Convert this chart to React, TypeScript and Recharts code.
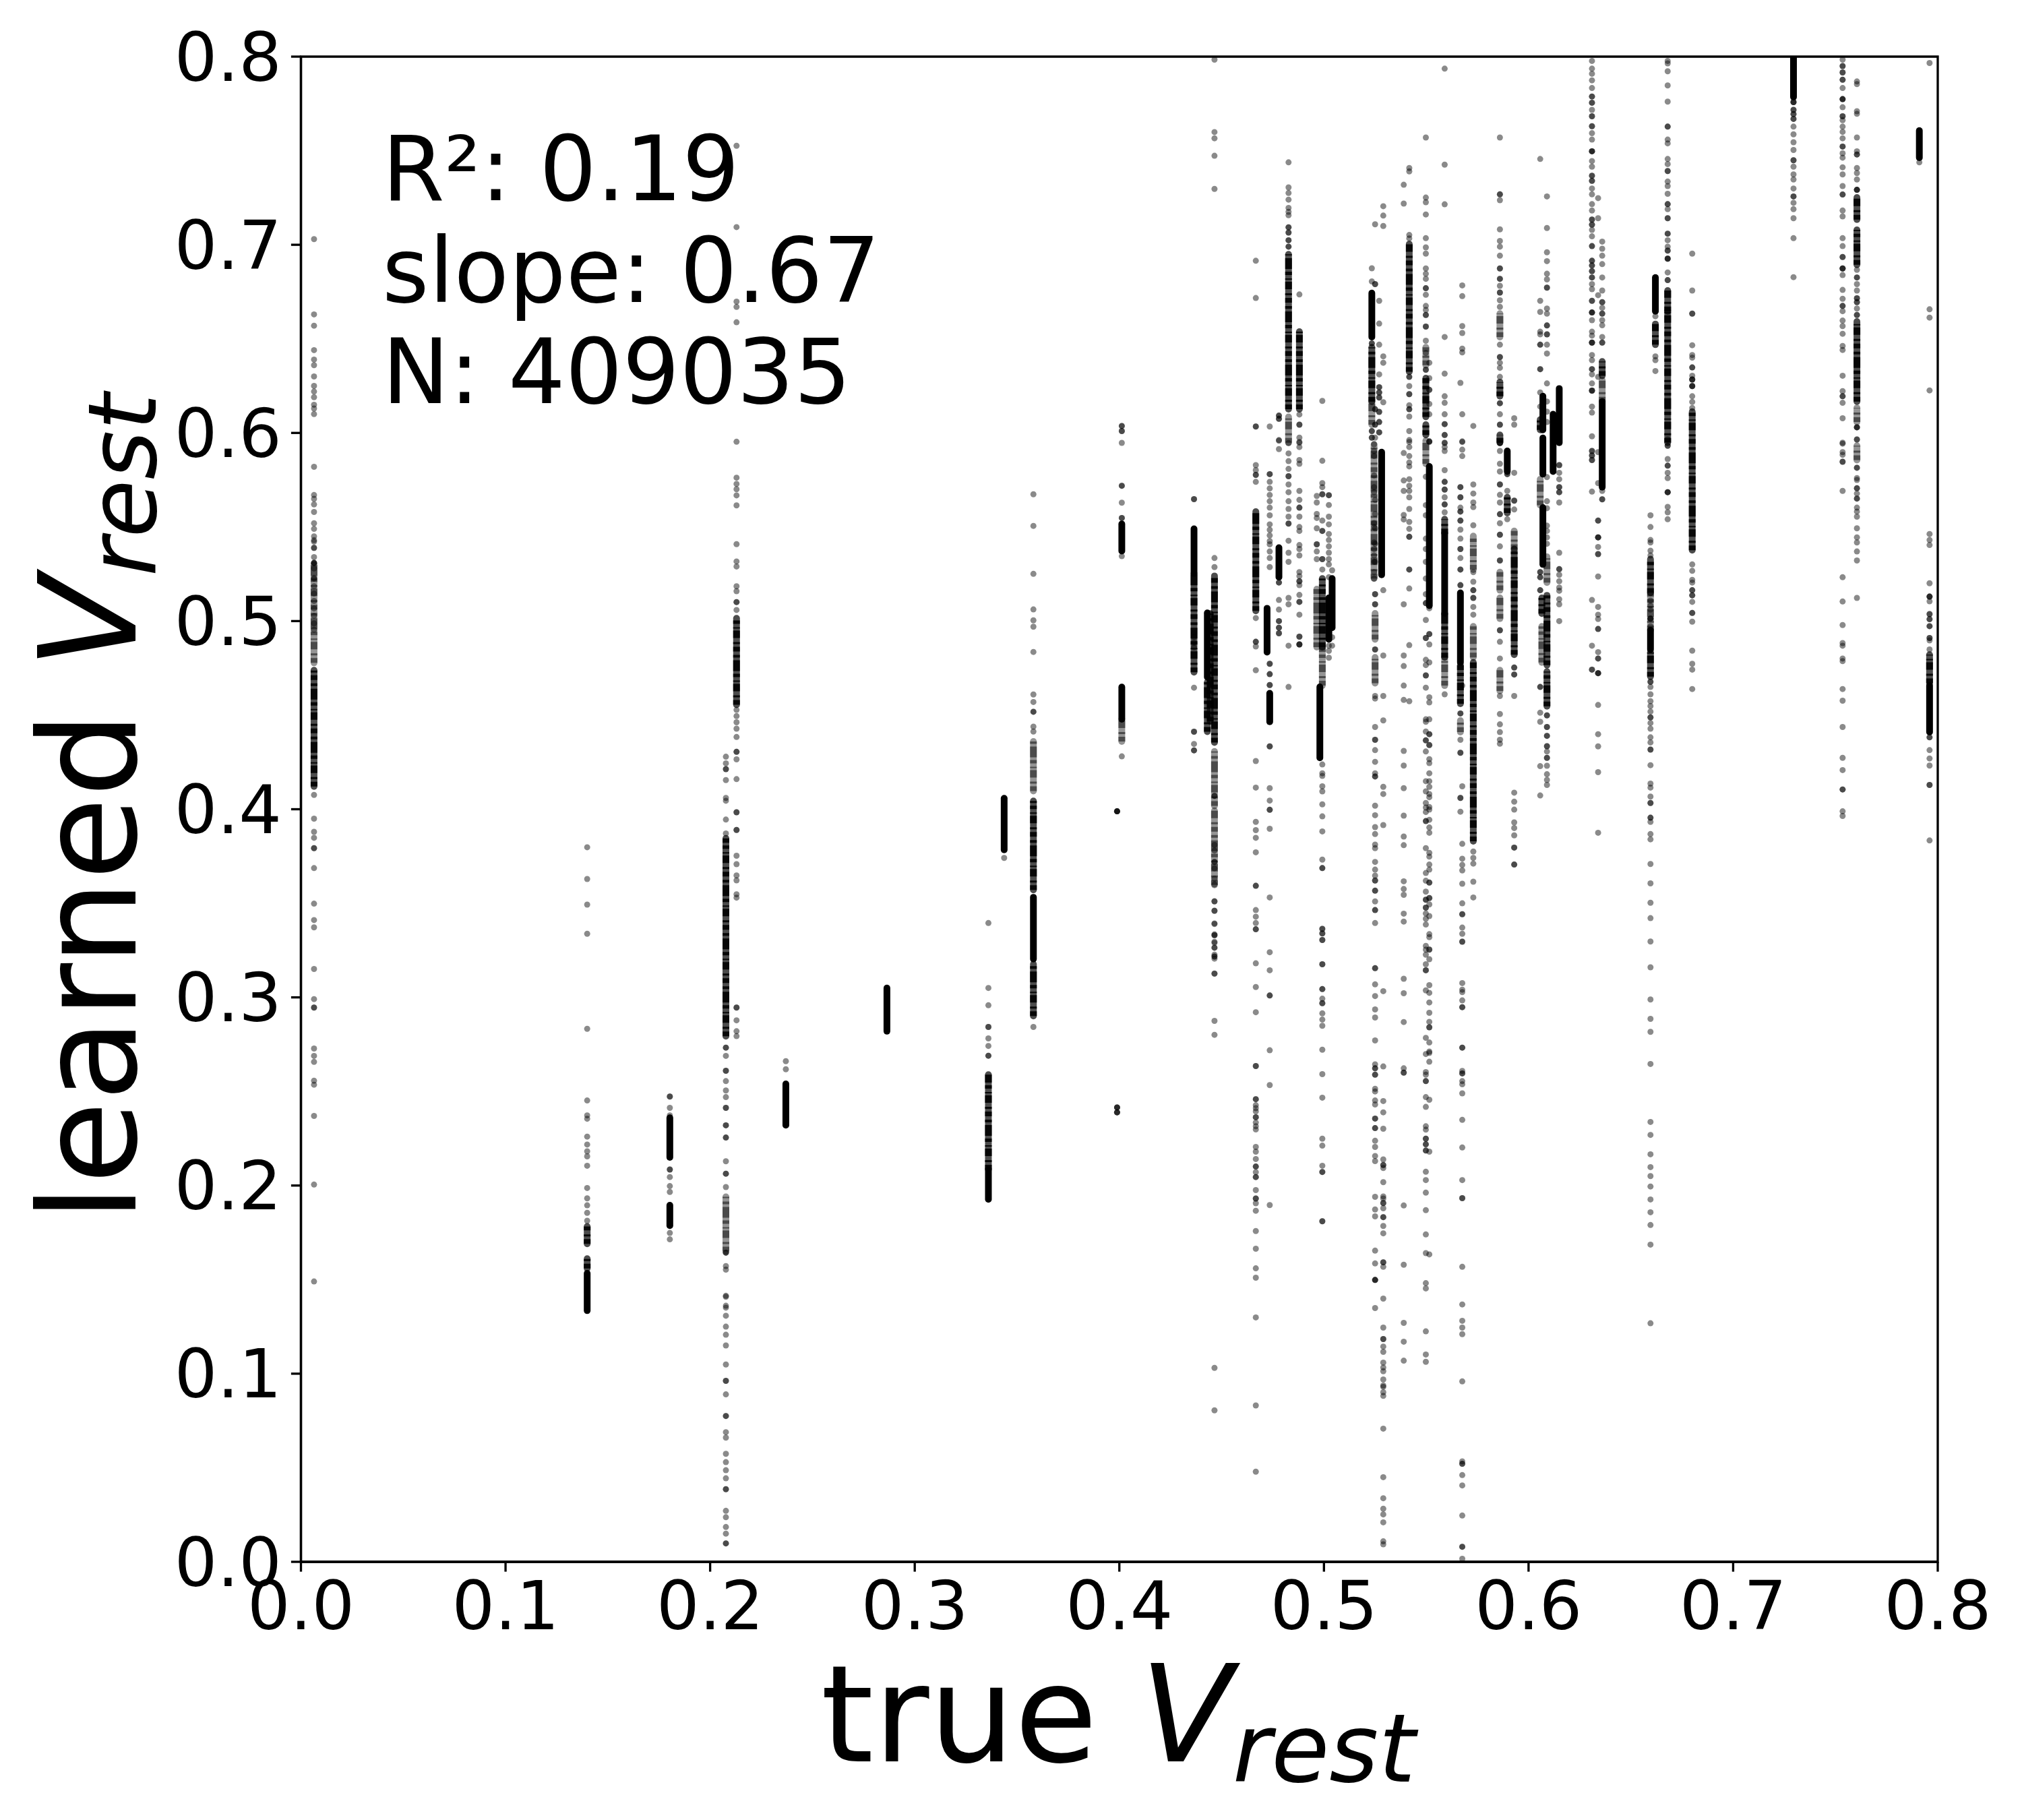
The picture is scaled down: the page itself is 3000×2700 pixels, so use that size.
import { ScatterChart, Scatter, XAxis, YAxis, ReferenceArea } from 'recharts';

const xTicks = [0, 0.1, 0.2, 0.3, 0.4, 0.5, 0.6, 0.7, 0.8];
const yTicks = [0, 0.1, 0.2, 0.3, 0.4, 0.5, 0.6, 0.7, 0.8];
const statLines = ['R²: 0.19', 'slope: 0.67', 'N: 409035'];

// single dots, one list per vertical stripe
const col0064 = [.703,.663,.657,.644,.639,.636,.630,.625,.622,.619,.615,.613,.610,.582,.567,.565,.562,.558,.552,.549,.545,.543,.539,.534,.531,.528,.523,.5422,.5388,.5309,.5309,.5225,.5185,.5146,.5107,.5067,.5028,.4988,.4954,.4076,.395,.388,.3848,.3793,.3793,.3687,.3498,.3411,.3372,.3151,.2991,.2946,.2946,.2728,.2689,.2657,.2557,.2536,.237,.2005,.149];
const col1399 = [.3798,.3629,.3493,.3338,.2833,.2452,.2373,.2355,.226,.2218,.2182,.2155,.2105,.1987,.1932,.1895,.1855,.1813];
const col1803 = [.2473,.2473,.2413,.2373,.2085,.2085,.2045,.1997,.1966,.1748,.1714];
const col2077 = [.4279,.4244,.4213,.4213,.4155,.406,.4045,.3945,.3871,.2733,.2733,.2689,.261,.261,.2555,.2505,.247,.2413,.2413,.232,.232,.2255,.2255,.2129,.2063,.2063,.1992,.1643,.1643,.1572,.1553,.1414,.1409,.1361,.1351,.1308,.125,.1207,.115,.1049,.0962,.0962,.089,.0775,.0775,.0689,.066,.0574,.053,.0487,.0444,.0386,.0386,.0271,.0237,.0185,.015,.0098,.0098];
const col2129 = [.7526,.7094,.6698,.667,.6588,.5953,.5762,.5729,.5701,.5668,.5615,.5409,.5317,.529,.5185,.5159,.5101,.5101,.5059,.4528,.4495,.4462,.4428,.4384,.4305,.4305,.4265,.416,.3984,.3984,.389,.389,.3753,.3708,.3648,.3622,.3548,.353,.2946,.2946,.2878,.282,.2794];
const col2370 = [.2661,.2618];
const col3360 = [.3395,.305,.2958,.2843,.2843,.2782,.2742,.269,.269];
const col3437 = [.3741];
const col3580 = [.5674,.5506,.5251,.5062,.5004,.497,.4836,.461,.457,.4518,.4518,.4439,.4413,.2843];
const col3989 = [.3989,.3989,.3989,.3989,.2415,.2415,.2415,.2389,.2389,.2389];
const col4012 = [.6037,.6037,.601,.601,.5947,.5719,.5719,.5629,.5548,.5548,.5345,.4281];
const col4365 = [.5648,.5648,.4646,.4412,.4412,.4347,.4313,.4313,.4938,.4915,.486,.4885];
const col4465 = [.7984,.7599,.7566,.7473,.7297,.5335,.5287,.3511,.3461,.3393,.3335,.3295,.3264,.3217,.3217,.3127,.2875,.2801,.1031,.0805,.4071,.4071,.381,.378,.372,.372,.3686,.3631,.36,.351,.346,.339,.333,.333,.329,.3264,.3227,.3206,.3126];
const col4667 = [.6915,.6717,.6034,.6034,.5829,.5802,.5777,.5777,.574,.5016,.489,.489,.4865,.4739,.4256,.4115,.3933,.3889,.3848,.3771,.3593,.3593,.3464,.3429,.3395,.3362,.3362,.3181,.3055,.2921,.2635,.2635,.2459,.2459,.2427,.2411,.2394,.2363,.2363,.2335,.2315,.2298,.2205,.218,.2141,.2101,.2101,.2071,.2045,.2045,.1976,.1931,.1931,.1906,.1866,.1758,.1664,.156,.151,.1299,.0831,.0479];
const col4735 = [.6034,.5781,.5781,.574,.5705,.567,.5637,.5603,.5562,.5514,.5485,.5455,.5425,.5408,.537,.5335,.5287,.4773,.4773,.4718,.4718,.466,.466,.4334,.4334,.4112,.4046,.3997,.3997,.3896,.3531,.324,.3144,.301,.301,.2719,.2534,.1896];
const col4780 = [.6092,.6092,.6075,.6075,.5962,.5959,.5914,.5205,.5205,.5112,.5061,.5,.5,.4965,.4965,.4935,.4935];
const col4827 = [.7438,.7305,.7275,.724,.7196,.7175,.7157,.7093,.7093,.7065,.7065,.7024,.7024,.699,.699,.5946,.5891,.585,.5809,.577,.577,.5726,.5685,.5637,.5596,.5555,.5518,.5518,.5427,.5363,.5315,.5123,.5089,.4869,.465];
const col4880 = [.6736,.6098,.6044,.6044,.5975,.5948,.5952,.5925,.5856,.5836,.5692,.5644,.5603,.5603,.5555,.55,.5479,.5404,.5383,.5349,.526,.5239,.5212,.5212,.5191,.5139,.5102,.5102,.5034,.4917,.4917,.4876,.4876,.4876];
const col4965 = [.5665,.563,.5569,.5548,.5493,.5408,.5408,.537,.5329];
const col4992 = [.617,.5852,.5733,.5712,.5674,.5674,.5534,.5479,.5479,.5329,.5329,.5274,.4238,.4191,.4177,.4122,.4095,.4026,.3962,.3882,.3732,.3687,.3687,.3364,.3364,.334,.334,.3305,.3305,.3176,.3176,.3044,.3044,.2993,.2969,.2969,.2915,.2882,.2849,.2722,.2592,.2467,.2249,.2212,.2105,.2072,.2072,.181,.181];
const col5024 = [.5669,.5669,.5617,.5555,.5514,.5463,.5431,.5397,.5363,.5329,.5301,.5233,.4869,.4842,.4805];
const col5040 = [.527,.4914,.4869];
const col5234 = [.6875,.6805,.6476,.6476,.601,.601,.5975,.5975];
const col5245 = [.5939,.5904,.5877,.5774,.5712,.5685,.5521,.55,.5418,.5383,.5349,.5315,.526,.5226];
const col5250 = [.7109,.6791,.6791,.6126,.6126,.6044,.6044,.5975,.5644,.5569,.5493,.5411,.5315,.5143,.5143,.5089,.5089,.4849,.4849,.4602,.4588,.4437,.4369,.4369,.4314,.4252,.4191,.4174,.4174,.4019,.3968,.3905,.3868,.3812,.3793,.372,.3679,.3647,.3621,.3621,.3567,.3567,.351,.3464,.3464,.3395,.3155,.3155,.3069,.3007,.2936,.2893,.2771,.2644,.2623,.2623,.2589,.2589,.2514,.25,.2452,.2431,.2356,.2356,.2305,.2305,.2238,.2205,.2157,.213,.194,.1873,.1836,.1654,.1586,.1498,.1498,.1498,.1349];
const col5270 = [.6702,.6581,.6469,.6311,.6243,.6243,.6215,.6215,.6188,.6188,.6112,.6112,.6058,.6058,.6003,.6003];
const col5290 = [.7205,.7155,.71,.6407,.6373,.6163,.5164,.4817,.4602,.4472,.4119,.4081,.3916,.3033,.2633,.2449,.2389,.2302,.2139,.2109,.2109,.2093,.2018,.1942,.1931,.1907,.1907,.1879,.1832,.1832,.1785,.1746,.1592,.1592,.1568,.1399,.1245,.1184,.1184,.1144,.1116,.1059,.1033,.1013,.0969,.0937,.093,.0901,.0882,.0708,.045,.0338,.0282,.0252,.021,.0109,.0093];
const col5390 = [.7319,.7219,.5893,.5747,.5692,.5564,.554,.5089,.4817,.4761,.4657,.4581,.431,.4232,.4112,.3966,.3855,.3809,.3617,.3576,.3545,.3445,.3403,.3099,.3022,.2869,.2623,.26,.26,.1894,.1579,.127,.117,.1069];
const col5417 = [.7408,.739,.7052,.7034,.6298,.6298,.6249,.6206,.6206,.6147,.6126,.6126,.6087,.601,.5962,.5952,.5925,.5877,.5843,.5822,.5754,.5719,.5692,.5658,.5596,.5527,.549,.5448,.5448,.5274,.5274,.5173,.4872,.4574];
const col5498 = [.757,.7251,.7226,.7161,.7035,.6986,.6953,.6874,.6846,.6819,.6769,.6769,.6734,.6675,.6654,.6627,.6627,.6565,.6565,.649,.6425,.6336,.6336,.5767,.5616,.5562,.5438,.5383,.5315,.5226,.5143,.5095,.5095,.5006,.491,.491,.4794,.4766,.4711,.4711,.4646,.4478,.4465,.4413,.4366,.4366,.4307,.4149,.4095,.4033,.4009,.3985,.3937,.3937,.3793,.3661,.362,.3562,.3519,.3519,.3477,.3477,.3446,.3418,.3387,.3274,.3254,.3227,.3176,.3144,.3144,.3037,.2785,.2699,.2603,.2589,.2555,.2555,.247,.2418,.2315,.2297,.2249,.2249,.2219,.2219,.2186,.2186,.2073,.2029,.1962,.1869,.174,.1641,.1481,.1453,.1225,.1102,.1063];
const col5515 = [.6373,.6291,.6229,.6229,.6154,.6099,.5955,.5955,.5952,.5068,.4931,.4931,.4876,.478,.4595,.4568,.4478,.4399,.4399,.4341,.4341,.4266,.4245,.4191,.4149,.4119,.4081,.4064,.4012,.3998,.3944,.3903,.3875,.3768,.3748,.3706,.3679,.361,.361,.3528,.3528,.3494,.3432,.3336,.332,.3254,.3254,.3203,.3065,.3024,.2973,.2918,.287,.2841,.2841,.276,.2712,.2705,.2658,.2456,.218,.1634];
const col5590 = [.7936,.7426,.7215,.651,.6315,.6195,.616,.6099,.6047,.6047,.5989,.5989,.5948,.5946,.5925,.5904,.5802,.574,.574,.5699,.5699,.5658,.562,.562,.5578,.4611];
const col5667 = [.6266,.5712,.5712,.5658,.5658,.5603,.5582,.5582,.5534,.5534,.5486,.5438,.5383,.5383,.5335,.5274,.5274,.5191,.5191,.4509,.4509,.4369,.43,.43,.406,.406,.3987];
const col5676 = [.6784,.6727,.6568,.6531,.6448,.6428,.6099,.5955,.5952,.5911,.5877,.4657,.4122,.3816,.3737,.3704,.3675,.3604,.35,.3442,.3442,.3371,.3338,.3296,.3296,.3076,.3041,.3028,.2984,.2948,.2948,.2733,.2733,.2609,.2596,.2596,.2555,.2538,.249,.2349,.2202,.2029,.1933,.1933,.1568,.1368,.1281,.1245,.121,.0959,.0534,.0521,.0521,.0461,.0406,.0246,.008,.008,.0016];
const col5730 = [.6037,.5726,.5678,.563,.5606,.5509,.526,.5209,.5164,.5164,.5123,.5123,.5075,.5034,.3775,.3741,.3711,.3615,.3531];
const col5860 = [.757,.7268,.7268,.7237,.7082,.702,.699,.6942,.6874,.6874,.6819,.6819,.6782,.6746,.6746,.6705,.667,.6469,.6403,.6403,.6373,.6346,.6298,.6158,.6158,.6099,.6044,.6044,.5946,.5946,.5904,.5836,.5795,.5726,.5726,.5671,.563,.5568,.5568,.552,.5459,.5459,.5397,.5322,.5322,.4951,.4951,.489,.4801,.4602,.4506,.4451,.441,.4369,.4348];
const col5896 = [.5781,.5781,.5692,.5541];
const col5930 = [.6078,.6044,.5788,.564,.564,.5593,.4753,.4753,.4716,.4716,.4602,.4088,.404,.3998,.393,.39,.3861,.3796,.3796,.3706,.3706];
const col6057 = [.7456,.6702,.6643,.6538,.6524,.6469,.6469,.6339,.6339,.6215,.614,.526,.526,.5233,.5233,.5164,.5164,.465,.465,.4513,.4465,.4229,.4073];
const col6090 = [.7257,.7089,.696,.6913,.6846,.6816,.6772,.6772,.6661,.6634,.6571,.6571,.6524,.6524,.6469,.6422,.6263,.6167,.6113,.6058,.5765,.5637,.56,.5507,.5479,.5445,.5411,.4499,.4499,.4437,.4437,.439,.439,.4335,.4335,.4307,.4273,.4273,.4231,.4186,.4156,.4129];
const col6150 = [.5829,.5829,.5788,.5754,.5712,.5712,.5685,.5685,.563,.5363,.5276,.5276,.5246,.5212,.5178,.5161,.5116,.5089,.5];
const col6310 = [.7977,.7936,.7909,.7874,.7833,.7788,.7788,.7755,.7755,.7717,.7683,.7683,.763,.763,.7593,.7559,.7497,.7497,.7497,.7445,.7415,.7367,.7367,.734,.734,.7299,.7268,.7216,.7182,.7134,.7134,.7107,.7107,.7079,.7045,.6993,.6993,.6915,.6915,.689,.689,.686,.686,.6826,.6826,.6791,.6764,.6702,.6702,.664,.664,.664,.6599,.6538,.6517,.648,.648,.648,.6414,.6387,.6339,.6339,.6311,.6263,.6225,.6225,.6225,.614,.6108,.5982,.5904,.5904,.588,.588,.5856,.5856,.5688,.5112,.4869,.4742,.4742];
const col6340 = [.7248,.7141,.6732,.6298,.5898,.5733,.5534,.5534,.5445,.5445,.5445,.5394,.5356,.5356,.5237,.5075,.5034,.5011,.4958,.4958,.4835,.4801,.4801,.4723,.4723,.4723,.4554,.4399,.4334,.4197,.3875];
const col6360 = [.7017,.6979,.6942,.6897,.6826,.6757,.6695,.6695,.6665,.6634,.6634,.6599,.6572,.651,.648,.648,.5692,.5647,.5647];
const col6596 = [.5562,.55,.5431,.5418,.5374,.5349,.5109,.5082,.5061,.5013,.5013,.5013,.4973,.4677,.4677,.465,.4611,.4574,.4548,.4519,.4488,.4488,.4458,.4428,.4382,.4355,.4317,.4317,.4234,.4136,.4115,.4067,.4033,.4033,.3955,.3955,.3933,.3868,.384,.3709,.3606,.3503,.3421,.3297,.316,.2989,.2886,.2817,.2646,.2338,.2269,.2166,.2098,.205,.1995,.1926,.1858,.179,.1686,.1268];
const col6620 = [.662,.6407,.6387,.6329];
const col6680 = [.7977,.7964,.7922,.7847,.7761,.7628,.7628,.7559,.7539,.7456,.7429,.7392,.7392,.7336,.7312,.7271,.7216,.7216,.7189,.7141,.7141,.7059,.7059,.7024,.699,.6969,.6969,.6926,.6926,.6926,.6853,.6812,.6812,.5966,.5932,.5932,.5861,.5826,.5826,.5788,.576,.5685,.5685,.5685,.5607,.5578,.5541];
const col6800 = [.6953,.6757,.6634,.6634,.6466,.6414,.64,.6348,.6348,.6304,.6284,.6284,.6284,.6249,.6249,.6249,.6195,.6165,.6133,.5301,.5267,.5219,.5205,.5164,.5164,.5137,.5137,.5102,.5043,.5043,.4997,.4843,.4773,.4742,.4639];
const col7295 = [.7758,.7758,.7758,.7717,.7717,.7695,.7695,.7669,.7669,.7628,.7587,.7545,.7504,.7449,.7449,.7415,.7374,.7347,.7299,.7257,.7257,.7223,.7189,.7141,.7035,.6828];
const col7535 = [.7984,.795,.795,.7916,.7916,.7877,.7877,.7833,.7774,.7774,.7774,.7731,.7683,.7683,.7662,.7628,.76,.7566,.7522,.7522,.7486,.7463,.7412,.7374,.7312,.7267,.7267,.7182,.7151,.7035,.6993,.6935,.6935,.6874,.6874,.6874,.6839,.676,.6713,.6675,.6675,.6647,.6597,.6568,.6527,.6462,.6441,.6304,.6222,.6195,.6195,.616,.6078,.5948,.5943,.5898,.5884,.5847,.5847,.5692,.5233,.5104,.4979,.4883,.4869,.4801,.4787,.4639,.4577,.4437,.4273,.4208,.4105,.4105,.3989,.3964];
const col7605 = [.7868,.7854,.771,.7696,.757,.7497,.748,.748,.7408,.7381,.7347,.7292,.7292,.7292,.6867,.6826,.6826,.6791,.6757,.6716,.6716,.6695,.6695,.6661,.6627,.6627,.603,.603,.603,.5964,.5966,.5815,.5815,.576,.575,.5706,.5706,.5678,.5651,.5651,.5603,.5582,.5555,.5493,.5445,.5418,.537,.5322,.5123];
const col7910 = [.7438];
const col7960 = [.7966,.6657,.6613,.6226,.5463,.5431,.5404,.5201,.513,.513,.513,.5105,.5037,.5037,.501,.501,.4973,.4973,.491,.491,.4897,.4849,.4382,.4382,.4314,.427,.4232,.4129,.4129,.3834];

const stripeX = [.0064,.1399,.1803,.2077,.2129,.237,.336,.3437,.358,.3989,.4012,.4365,.4465,.4667,.4735,.478,.4827,.488,.4965,.4992,.5024,.504,.5234,.5245,.525,.527,.529,.539,.5417,.5498,.5515,.559,.5667,.5676,.573,.586,.5896,.593,.6057,.609,.615,.631,.634,.636,.6596,.662,.668,.68,.7295,.7535,.7605,.791,.796];
const stripeY = [col0064,col1399,col1803,col2077,col2129,col2370,col3360,col3437,col3580,col3989,col4012,col4365,col4465,col4667,col4735,col4780,col4827,col4880,col4965,col4992,col5024,col5040,col5234,col5245,col5250,col5270,col5290,col5390,col5417,col5498,col5515,col5590,col5667,col5676,col5730,col5860,col5896,col5930,col6057,col6090,col6150,col6310,col6340,col6360,col6596,col6620,col6680,col6800,col7295,col7535,col7605,col7910,col7960];

// overlapping dots that read as one continuous run: x, low end, high end
const solidX =    [.1399,.1803,.1803,.237,.2864,.336,.3437,.358,.4012,.4012,.4365,.443,.4722,.4735,.478,.498,.5024,.504,.5234,.5282,.5515,.559,.5667,.5896,.607,.607,.607,.612,.615,.636,.6596,.662,.7295,.791,.796];
const solidLow =  [.1335,.215,.1787,.2321,.282,.1927,.3784,.3204,.5372,.4478,.5253,.4702,.4835,.4465,.5233,.4273,.4903,.4965,.651,.5246,.5082,.5041,.478,.5795,.6016,.5781,.5301,.5795,.5948,.5712,.4849,.6647,.7785,.7463,.441];
const solidHigh = [.1533,.236,.1895,.254,.305,.2085,.4058,.3532,.5516,.4649,.549,.5043,.5068,.4616,.539,.465,.5123,.5226,.6743,.5898,.5822,.5466,.515,.5904,.6195,.5973,.5603,.6099,.6236,.6167,.4951,.6826,.8,.7607,.4657];

const denseX =    [.0064,.1399,.1399,.2077,.2129,.336,.358,.358,.4365,.443,.4444,.4465,.4667,.4827,.488,.4992,.5234,.5417,.5498,.5498,.559,.559,.5667,.573,.586,.586,.5896,.593,.6057,.6065,.609,.609,.636,.6596,.6596,.662,.668,.668,.68,.7605,.7605,.7605,.796];
const denseLow =  [.4121,.169,.1559,.2794,.4555,.2085,.3571,.2901,.4728,.4412,.4467,.4355,.5054,.6126,.6126,.4862,.6167,.6325,.6085,.5989,.4807,.5466,.4561,.383,.6195,.5948,.5575,.4821,.6016,.504,.4766,.4547,.6304,.515,.4705,.6469,.5948,.6647,.5377,.6894,.6167,.7134,.467];
const denseHigh = [.4739,.1782,.1611,.3845,.5015,.2589,.4044,.3177,.5253,.4675,.504,.524,.5582,.6949,.6538,.5226,.6455,.7004,.6291,.6044,.5041,.5541,.4766,.478,.627,.5989,.5658,.5383,.6071,.5123,.5137,.4732,.638,.5329,.4835,.6579,.6647,.6757,.6113,.7079,.6592,.7251,.4821];

const hazyX =    [.0064,.2077,.358,.4012,.4465,.4465,.4992,.4965,.525,.525,.5245,.5234,.4827,.5498,.5498,.559,.5667,.573,.573,.586,.586,.586,.586,.593,.6057,.6065,.609,.636,.6596,.7605,.7605];
const hazyLow =  [.4778,.165,.4097,.436,.4018,.3598,.4657,.4862,.4903,.467,.5226,.6044,.5948,.636,.5836,.4657,.441,.4807,.5274,.651,.5164,.5013,.4629,.5383,.5616,.478,.5205,.6167,.4951,.6058,.5856];
const hazyHigh = [.53,.194,.436,.4478,.4307,.3992,.4862,.517,.5041,.4807,.5939,.6167,.6085,.6455,.5959,.4807,.4471,.4972,.5452,.6634,.526,.5123,.4739,.5479,.5754,.4972,.5342,.628,.515,.6133,.5932];

const dotData = stripeX.flatMap((x, i) => stripeY[i].map((y) => ({ x, y })));

function toRuns(xs: number[], lows: number[], highs: number[]) {
  return xs.map((x, i) => [{ x, y: lows[i] }, { x, y: highs[i] }]);
}

const noDot = () => <g />;
const dot = (p: any) => <circle cx={p.cx} cy={p.cy} r={4.5} fill="#000" fillOpacity={0.46} />;

const FONT = 'DejaVu Sans';
// uneven dashes give the runs the speckle of stacked dots
const SPECKLE = '7 4 3 6 11 3 2 5 5 4 16 4 4 5';

function runSeries(name: string, runs: { x: number; y: number }[][], base: number, speckle: number) {
  return runs.flatMap((run, i) => [
    <Scatter
      key={`${name}-base-${i}`}
      data={run}
      line={{ stroke: '#000', strokeWidth: 10, strokeLinecap: 'round', strokeOpacity: base }}
      lineType="joint"
      shape={noDot}
      isAnimationActive={false}
    />,
    speckle > 0 ? (
      <Scatter
        key={`${name}-speckle-${i}`}
        data={run}
        line={{ stroke: '#000', strokeWidth: 10, strokeDasharray: SPECKLE, strokeOpacity: speckle }}
        lineType="joint"
        shape={noDot}
        isAnimationActive={false}
      />
    ) : null,
  ]);
}

export default function App() {
  return (
    <div style={{ position: 'absolute', left: 0, top: 0, width: 3000, height: 2700, background: '#fff' }}>
      <ScatterChart
        width={3000}
        height={2700}
        margin={{ top: 84, right: 125, bottom: 233, left: 246.5 }}
      >
        <XAxis
          type="number"
          dataKey="x"
          domain={[0, 0.8]}
          ticks={xTicks}
          interval={0}
          allowDataOverflow
          height={150}
          tickFormatter={(v: number) => v.toFixed(1)}
          tick={{ fontSize: 100, fontFamily: FONT, fill: '#000' }}
          tickSize={14.6}
          tickMargin={14}
          axisLine={{ stroke: '#000', strokeWidth: 3.33 }}
          tickLine={{ stroke: '#000', strokeWidth: 3.33 }}
        />
        <YAxis
          type="number"
          dataKey="y"
          domain={[0, 0.8]}
          ticks={yTicks}
          interval={0}
          allowDataOverflow
          width={200}
          tickFormatter={(v: number) => v.toFixed(1)}
          tick={{ fontSize: 100, fontFamily: FONT, fill: '#000' }}
          tickSize={14.6}
          tickMargin={14}
          axisLine={{ stroke: '#000', strokeWidth: 3.33 }}
          tickLine={{ stroke: '#000', strokeWidth: 3.33 }}
        />
        <Scatter data={dotData} shape={dot} isAnimationActive={false} />
        {runSeries('hazy', toRuns(hazyX, hazyLow, hazyHigh), 0.42, 0.5)}
        {runSeries('dense', toRuns(denseX, denseLow, denseHigh), 0.7, 0.9)}
        {runSeries('solid', toRuns(solidX, solidLow, solidHigh), 1, 0)}
        <ReferenceArea x1={0} x2={0.8} y1={0} y2={0.8} fill="none" stroke="#000" strokeWidth={3.33} />
        <text x={1659} y={2613} textAnchor="middle" fontFamily={FONT} fontSize={200} fill="#000">
          true <tspan fontStyle="italic">V</tspan>
          <tspan fontStyle="italic" fontSize={140} dy={30}>rest</tspan>
        </text>
        <text
          transform="translate(201,1198) rotate(-90)"
          textAnchor="middle"
          fontFamily={FONT}
          fontSize={200}
          fill="#000"
        >
          learned <tspan fontStyle="italic">V</tspan>
          <tspan fontStyle="italic" fontSize={140} dy={30}>rest</tspan>
        </text>
        {statLines.map((line, i) => (
          <text key={line} x={567} y={297 + i * 150.5} fontFamily={FONT} fontSize={133.3} fill="#000">
            {line}
          </text>
        ))}
      </ScatterChart>
    </div>
  );
}
